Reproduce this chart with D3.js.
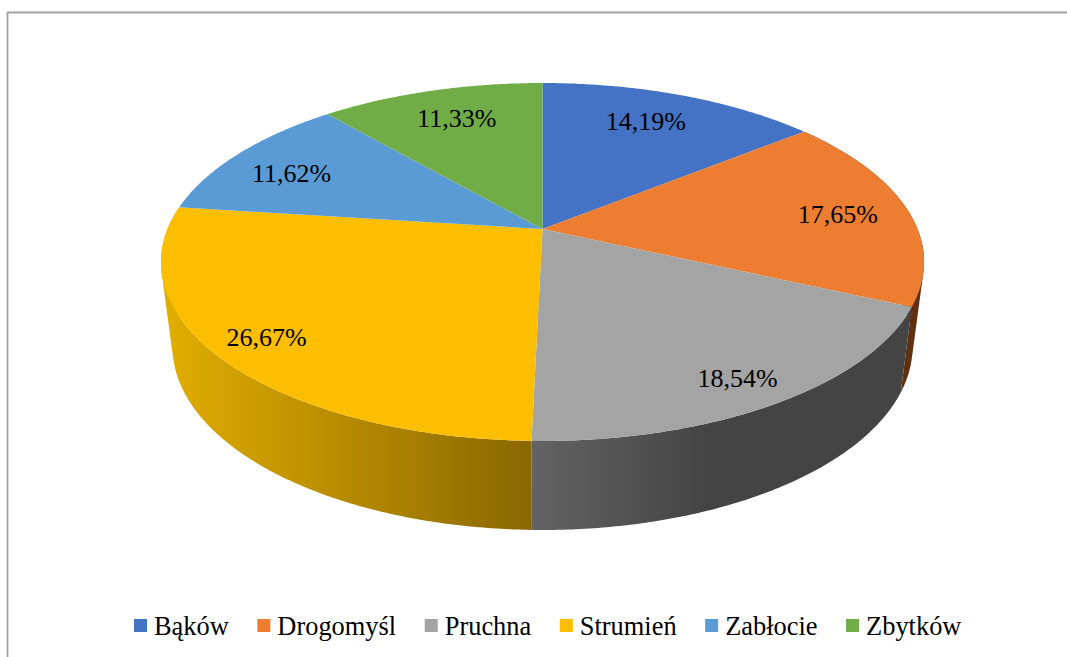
<!DOCTYPE html>
<html>
<head>
<meta charset="utf-8">
<script src="https://cdn.jsdelivr.net/npm/d3@7"></script>
<style>
  html, body { margin: 0; padding: 0; background: #fff; }
  svg { display: block; }
  text { font-family: "Liberation Serif", serif; fill: #000; }
</style>
</head>
<body>
<svg id="chart" width="1067" height="657"></svg>
<script>
const villages = ["Bąków", "Drogomyśl", "Pruchna", "Strumień", "Zabłocie", "Zbytków"];
const shares = [14.19, 17.65, 18.54, 26.67, 11.62, 11.33];
const sliceColors = ["#4472c4", "#ec7d31", "#a4a4a4", "#fbbe00", "#5b9bd5", "#70ad47"];
// label distance from centre, as a fraction of the pie radius
const labelRadii = [0.73, 0.8, 0.87, 0.86, 0.8, 0.76];
// Excel nudges the labels a bit off the radial line
const labelNudgeX = [-2, 3, -5, -3, -4, 2];
const labelNudgeY = [-6, 2, 2, 0, 6, -2];

const width = 1067;
const height = 657;
const svg = d3.select("#chart");

// Perspective view of the disc: k tilts the far side away from the viewer
const center = {x: 542.5, y: 229};
const radiusX = 375;
const radiusY = 172.9;
const k = 0.1844;
// The underside ellipse is narrower but a bit taller than the top one
const topMidY = 262;
const lowerMidY = 346.4;
const lowerScaleX = 0.97;
const lowerScaleY = 1.0257;

function project(angle, r) {
  const u = Math.sin(angle) * r;
  const v = -Math.cos(angle) * r;
  const w = 1 - k * v;
  return [center.x + radiusX * u / w, center.y + radiusY * v / w];
}

function lower(p) {
  return [center.x + (p[0] - center.x) * lowerScaleX, lowerMidY + (p[1] - topMidY) * lowerScaleY];
}

function arcPoints(a0, a1) {
  const n = Math.max(2, Math.ceil((a1 - a0) / 0.01));
  return d3.range(n + 1).map(i => project(a0 + (a1 - a0) * i / n, 1));
}

const arcs = d3.pie().sort(null).value(d => d)(shares);
const line = d3.line();

// border of the chart area (only top and left survive in the crop)
svg.append("path")
    .attr("d", line([[7.5, height], [7.5, 12.5], [width, 12.5]]))
    .attr("fill", "none")
    .attr("stroke", "#a3a3a3")
    .attr("stroke-width", 1.8);

// horizontal shading of the side wall
const defs = svg.append("defs");
const grads = [
  {id: "sideOrange", x1: 880, x2: 925, stops: ["#5f3110", "#5f3110"]},
  {id: "sideGray", x1: 532, x2: 710, stops: ["#636363", "#444444"]},
  {id: "sideYellow", x1: 172, x2: 532, stops: ["#dfac00", "#8a6700"]}
];
grads.forEach(function(g) {
  const lg = defs.append("linearGradient")
      .attr("id", g.id)
      .attr("gradientUnits", "userSpaceOnUse")
      .attr("x1", g.x1).attr("x2", g.x2)
      .attr("y1", 0).attr("y2", 0);
  lg.selectAll("stop")
      .data(g.stops)
      .enter()
      .append("stop")
      .attr("offset", (d, i) => i)
      .attr("stop-color", d => d);
});
const sideFill = {1: "url(#sideOrange)", 2: "url(#sideGray)", 3: "url(#sideYellow)"};

// Side wall as one path of small quads, all wound the same way
function sidePath(d) {
  const pts = arcPoints(d.startAngle, d.endAngle);
  let out = "";
  for (let i = 0; i < pts.length - 1; i++) {
    const quad = [pts[i], pts[i + 1], lower(pts[i + 1]), lower(pts[i])];
    if (d3.polygonArea(quad) < 0) quad.reverse();
    out += line(quad) + "Z";
  }
  return out;
}

svg.append("g")
    .selectAll("path")
    .data(arcs.filter(d => sideFill[d.index]))
    .enter()
    .append("path")
    .attr("d", sidePath)
    .attr("fill", d => sideFill[d.index]);

// Top of the pie
svg.append("g")
    .selectAll("path")
    .data(arcs)
    .enter()
    .append("path")
    .attr("d", d => line([[center.x, center.y]].concat(arcPoints(d.startAngle, d.endAngle))) + "Z")
    .attr("fill", d => sliceColors[d.index]);

// Value labels
svg.append("g")
    .selectAll("text")
    .data(arcs)
    .enter()
    .append("text")
    .attr("transform", function(d) {
      const p = project((d.startAngle + d.endAngle) / 2, labelRadii[d.index]);
      return "translate(" + (p[0] + labelNudgeX[d.index]) + "," + (p[1] + labelNudgeY[d.index]) + ")";
    })
    .attr("text-anchor", "middle")
    .attr("dy", "0.33em")
    .style("font-size", "26px")
    .text(d => d.value.toFixed(2).replace(".", ",") + "%");

// Legend: entries flow left to right by measured text width
const legend = svg.append("g");
let legendX = 134;
villages.forEach(function(name, i) {
  legend.append("rect")
      .attr("x", legendX)
      .attr("y", 619)
      .attr("width", 13)
      .attr("height", 13)
      .attr("fill", sliceColors[i]);
  const label = legend.append("text")
      .attr("x", legendX + 20)
      .attr("y", 635)
      .style("font-size", "26.4px")
      .text(name);
  legendX += 20 + label.node().getComputedTextLength() + 28.6;
});
</script>
</body>
</html>
